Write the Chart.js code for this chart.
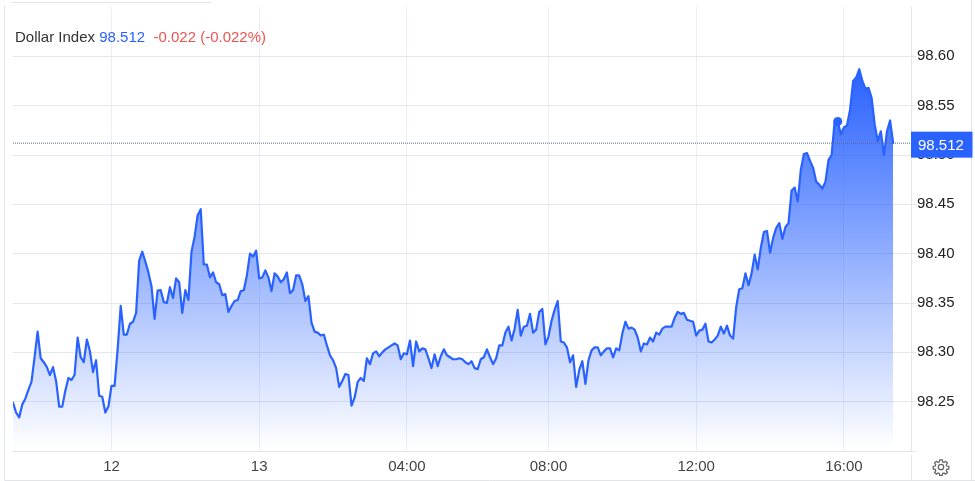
<!DOCTYPE html>
<html><head><meta charset="utf-8">
<style>
html,body{margin:0;padding:0;background:#fff;width:975px;height:481px;overflow:hidden}
#wrap{position:relative;width:975px;height:481px}
canvas{position:absolute;left:0;top:0}
#head{position:absolute;left:15px;top:28px;font:15px/17px "Liberation Sans",Arial,sans-serif;color:#333;white-space:pre;background:transparent}
#head .p{color:#2962ff}#head .c{color:#ef5350}
#gear{position:absolute;left:932px;top:458px}
</style>
<script src="https://cdn.jsdelivr.net/npm/chart.js@4/dist/chart.umd.min.js"></script>
</head><body><div id="wrap"><canvas id="c" width="975" height="481"></canvas>
<div id="head">Dollar Index <span class="p">98.512</span>  <span class="c">-0.022 (-0.022%)</span></div>
<svg id="gear" width="18" height="18" viewBox="0 0 24 24" fill="none" stroke="#666" stroke-width="1.7"><path d="M10.3 2.5h3.4l.5 2.7 1.7.7 2.3-1.6 2.4 2.4-1.6 2.3.7 1.7 2.7.5v3.4l-2.7.5-.7 1.7 1.6 2.3-2.4 2.4-2.3-1.6-1.7.7-.5 2.7h-3.4l-.5-2.7-1.7-.7-2.3 1.6-2.4-2.4 1.6-2.3-.7-1.7-2.7-.5v-3.4l2.7-.5.7-1.7-1.6-2.3 2.4-2.4 2.3 1.6 1.7-.7z"/><circle cx="12" cy="12" r="3.6"/></svg>
</div>
<script>
const seriesName = "Dollar Index";
const lastPrice = 98.512;
const markerIndex = 268;
const yTicks = [98.25,98.30,98.35,98.40,98.45,98.50,98.55,98.60];
const tickIndex = [32,80,128,174,222,270];
const tickLabels = ["12","13","04:00","08:00","12:00","16:00"];
const values = [
98.249,98.239,98.234,98.247,98.253,98.262,98.270,98.295,98.321,98.294,
98.290,98.285,98.277,98.285,98.271,98.245,98.245,98.261,98.274,98.272,
98.277,98.315,98.295,98.290,98.313,98.301,98.280,98.292,98.256,98.255,
98.239,98.245,98.266,98.266,98.303,98.347,98.318,98.318,98.329,98.331,
98.340,98.393,98.402,98.392,98.381,98.367,98.334,98.3625,98.363,98.351,
98.350,98.366,98.355,98.375,98.371,98.340,98.363,98.353,98.402,98.417,
98.439,98.445,98.389,98.389,98.376,98.381,98.371,98.369,98.358,98.359,
98.341,98.347,98.352,98.353,98.362,98.363,98.378,98.400,98.397,98.403,
98.375,98.376,98.383,98.376,98.362,98.380,98.377,98.371,98.374,98.381,
98.360,98.363,98.378,98.378,98.369,98.352,98.357,98.330,98.321,98.320,
98.317,98.318,98.307,98.297,98.292,98.284,98.265,98.271,98.278,98.277,
98.246,98.254,98.270,98.274,98.271,98.294,98.288,98.299,98.301,98.296,
98.300,98.303,98.305,98.307,98.309,98.307,98.293,98.299,98.298,98.312,
98.286,98.311,98.301,98.304,98.303,98.294,98.284,98.298,98.286,98.296,
98.303,98.297,98.295,98.293,98.293,98.294,98.293,98.290,98.288,98.291,
98.284,98.283,98.293,98.295,98.303,98.295,98.288,98.294,98.307,98.307,
98.320,98.326,98.312,98.324,98.343,98.317,98.326,98.327,98.339,98.320,
98.323,98.341,98.344,98.308,98.316,98.332,98.343,98.352,98.311,98.310,
98.305,98.290,98.297,98.265,98.282,98.291,98.268,98.292,98.302,98.305,
98.305,98.297,98.301,98.304,98.304,98.295,98.304,98.302,98.319,98.331,
98.324,98.325,98.323,98.315,98.301,98.309,98.308,98.315,98.311,98.320,
98.318,98.324,98.326,98.326,98.326,98.335,98.341,98.339,98.340,98.333,
98.332,98.331,98.317,98.322,98.323,98.329,98.311,98.310,98.313,98.317,
98.326,98.319,98.327,98.317,98.314,98.346,98.364,98.365,98.380,98.368,
98.380,98.399,98.384,98.406,98.422,98.423,98.401,98.416,98.426,98.431,
98.415,98.427,98.431,98.464,98.467,98.453,98.485,98.501,98.502,98.494,
98.487,98.473,98.470,98.466,98.473,98.495,98.500,98.534,98.534,98.521,
98.528,98.530,98.546,98.575,98.5785,98.587,98.575,98.567,98.568,98.558,
98.531,98.514,98.524,98.500,98.524,98.535,98.512
];
const xEnd = 291.8;
const BLUE = "#2962ff";
const FONT = '"Liberation Sans",Arial,sans-serif';
const points = values.map((v,i)=>({x:i,y:v}));

const chromePlugin = {
  id:"chrome",
  afterDraw(chart){
    const c=chart.ctx, a=chart.chartArea, ys=chart.scales.y;
    c.save();
    c.strokeStyle="#e2e4ea"; c.lineWidth=1;
    c.beginPath();
    c.moveTo(4.5,6); c.lineTo(4.5,480.5); c.lineTo(975,480.5);
    c.moveTo(971.5,0); c.lineTo(971.5,480);
    c.moveTo(11,2.5); c.lineTo(211,2.5);
    c.moveTo(a.right+.5,455); c.lineTo(a.right+.5,480);
    c.stroke();
    const y=ys.getPixelForValue(lastPrice);
    c.fillStyle=BLUE;
    c.fillRect(a.right,y-11.5,61.5,26);
    c.fillStyle="#fff"; c.font='15px '+FONT;
    c.textBaseline="middle"; c.textAlign="left";
    c.fillText(lastPrice.toFixed(3),a.right+7,y+3);
    c.restore();
  }
};

new Chart(document.getElementById("c"),{
  type:"line",
  data:{datasets:[
    {label:seriesName,data:points,borderColor:BLUE,borderWidth:2.2,tension:0,
     borderJoinStyle:"round",borderCapStyle:"round",
     fill:"start",
     backgroundColor(ctx){
       const a=ctx.chart.chartArea; if(!a) return "rgba(41,98,255,.3)";
       const g=ctx.chart.ctx.createLinearGradient(0,70,0,a.bottom-2);
       g.addColorStop(0,"rgba(41,98,255,1)");
       g.addColorStop(1,"rgba(41,98,255,0)");
       return g;
     },
     pointRadius(ctx){return ctx.dataIndex===markerIndex?4.5:0;},
     pointBackgroundColor:BLUE,pointBorderWidth:0,order:2},
    {label:"last",data:[{x:0,y:lastPrice},{x:xEnd,y:lastPrice}],borderColor:"#5b6b8c",borderWidth:1,borderDash:[1,1],pointRadius:0,fill:false,order:1}
  ]},
  options:{
    responsive:false,animation:false,devicePixelRatio:1,
    layout:{padding:{left:13,top:7,right:0,bottom:0}},
    plugins:{legend:{display:false},tooltip:{enabled:false},title:{display:false}},
    scales:{
      x:{type:"linear",min:0,max:xEnd,
        afterBuildTicks(s){s.ticks=tickIndex.map(v=>({value:v}));},
        afterFit(s){s.height=30;s.paddingLeft=0;s.paddingRight=0;},
        afterTickToLabelConversion(s){s.ticks.forEach((t,i)=>{t.label=tickLabels[i];});},
        grid:{color:"#e9eff6",drawTicks:false},
        border:{color:"#e2e4ea"},
        ticks:{autoSkip:false,maxRotation:0,padding:7,color:"#444",font:{family:FONT,size:15}}},
      y:{type:"linear",position:"right",min:98.20,max:98.65,
        afterBuildTicks(s){s.ticks=[98.20].concat(yTicks).map(v=>({value:v}));},
        afterFit(s){s.width=64;s.paddingTop=0;s.paddingBottom=0;},
        grid:{color(ctx){return "#e6e7ea";},tickLength:6},
        border:{color:"#e2e4ea"},
        ticks:{padding:0,color:"#222",font:{family:FONT,size:15},
          callback(v){return yTicks.some(t=>Math.abs(t-v)<1e-6)?Number(v).toFixed(2):"";}}}
    }
  },
  plugins:[chromePlugin]
});
</script></body></html>
